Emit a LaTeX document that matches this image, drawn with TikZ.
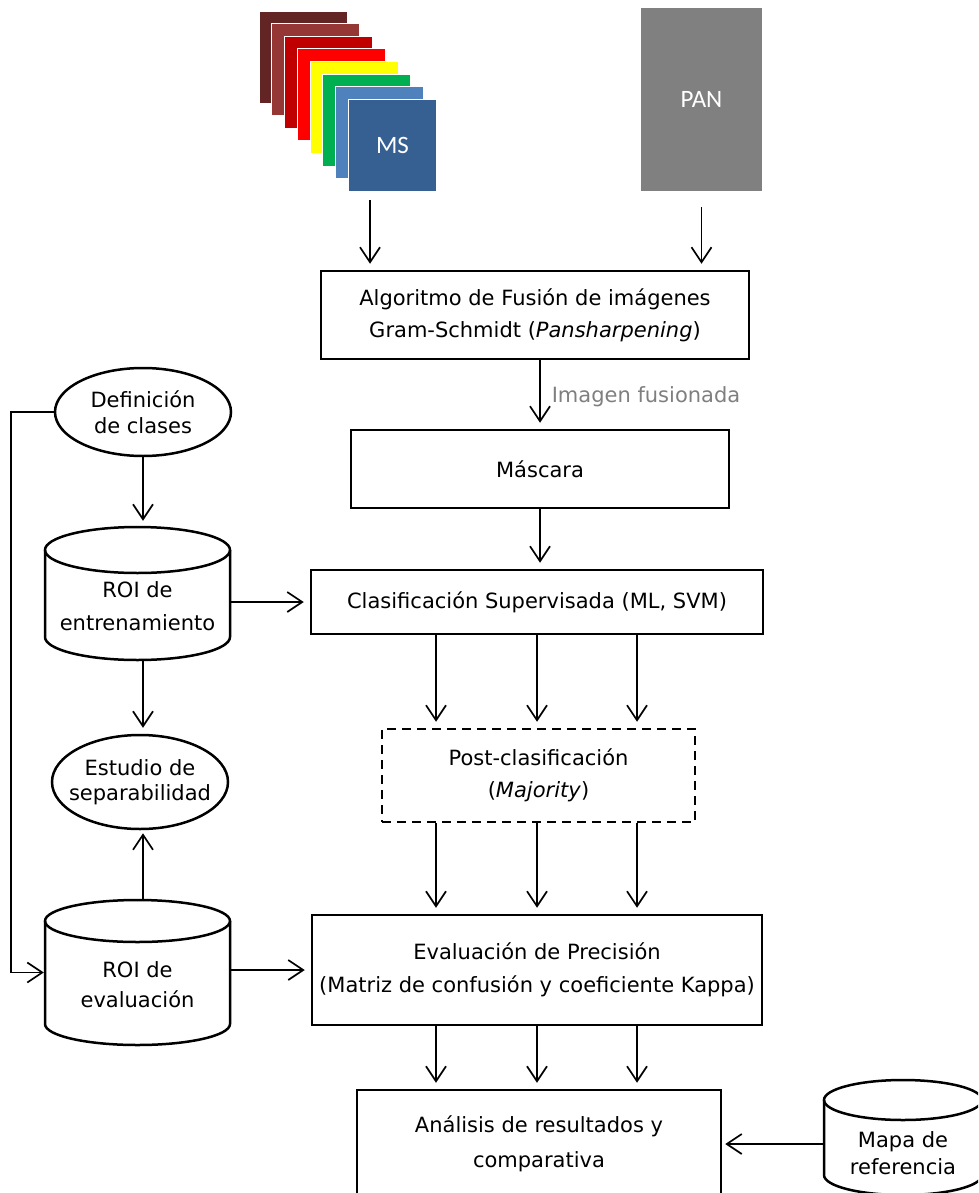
\documentclass[tikz,border=0pt]{standalone}
\usepackage{fontspec}
\setmainfont{DejaVu Sans}
\newfontfamily\labelfont{Carlito}
\usetikzlibrary{arrows.meta,shapes.geometric}

\newcommand\fs{\fontsize{21}{32}\selectfont}
% outline of a drum: centre x, top-ellipse y, bottom-ellipse y, half width, y radius
\newcommand\drumoutline[5]{%
  \draw[drum] (#1,#2) ellipse [x radius=#4pt, y radius=#5pt];
  \draw[drum] ({#1-#4},#2) -- ({#1-#4},#3)
    arc[start angle=180,end angle=360,x radius=#4pt,y radius=#5pt] -- ({#1+#4},#2);
}

\definecolor{band1}{HTML}{632523}
\definecolor{band2}{HTML}{953735}
\definecolor{band3}{HTML}{C00000}
\definecolor{band4}{HTML}{FF0000}
\definecolor{band5}{HTML}{FFFF00}
\definecolor{band6}{HTML}{00B050}
\definecolor{band7}{HTML}{4F81BD}
\definecolor{band8}{HTML}{376092}
\definecolor{pangray}{HTML}{808080}
\definecolor{notegray}{HTML}{7F7F7F}

\begin{document}
\begin{tikzpicture}[x=1pt,y=-1pt,
  txt/.style={font=\fs, align=center, text=black},
  box/.style={draw, line width=2.5pt, inner sep=0pt, txt},
  oval/.style={draw, ellipse, line width=2.5pt, inner xsep=-14pt, inner ysep=-6pt, txt},
  drum/.style={line width=2.5pt},
  drumbox/.style={draw=none, inner sep=0pt, minimum width=185pt},
  arr/.style={line width=1.7pt, -{Straight Barb[length=15pt,width=20pt,line width=1.7pt]}, shorten >=6pt},
  band/.style={draw=white, line width=0.6pt, minimum width=88pt, minimum height=92pt, inner sep=0pt},
  imgtext/.style={text=white, font=\labelfont\fontsize{25}{30}\selectfont}
]
\useasboundingbox (0,0) rectangle (978,1193);
\clip (0,0) rectangle (978,1193);

% multispectral stack
\foreach \i/\c in {0/band1,1/band2,2/band3,3/band4,4/band5,5/band6,6/band7}{
  \node[band, fill=\c] (b\i) at ({303+12.7*\i},{57+12.6*\i}) {};
}
\node[band, fill=band8, imgtext] (ms) at (392.5,145) {MS};
\coordinate (msfoot) at (370,200);

% panchromatic
\node[fill=pangray, minimum width=121pt, minimum height=183pt, inner sep=0pt, imgtext] (pan) at (701.5,99.5) {PAN};

% processing chain
\node[box, minimum width=428pt, minimum height=88pt] (fusion) at (535,315)
  {Algoritmo de Fusión de imágenes\\Gram-Schmidt (\textit{Pansharpening})};
\node[box, minimum width=378pt, minimum height=78pt] (mascara) at (540,469) {Máscara};
\node[box, minimum width=452pt, minimum height=64pt] (clasif) at (537,602)
  {Clasificación Supervisada (ML, SVM)};
\node[box, dashed, dash pattern=on 9pt off 6pt, minimum width=313pt, minimum height=93pt] (post) at (538.5,775.5)
  {Post-clasificación\\(\textit{Majority})};
\node[box, minimum width=450pt, minimum height=110pt] (eval) at (537,970)
  {Evaluación de Precisión\\[1pt](Matriz de confusión y coeficiente Kappa)};
\node[box, minimum width=364pt, minimum height=108pt] (ana) at (539,1144)
  {Análisis de resultados y\\[3pt]comparativa};

\node[txt, text=notegray] (fusedlabel) at (646,397) {Imagen fusionada};

% class definition and separability
\node[oval, minimum width=176pt, minimum height=88pt] (def) at (143,412)
  {Definición\\[-6pt]de clases};
\node[oval, minimum width=176pt, minimum height=94pt] (sep) at (140,782)
  {Estudio de\\[-7pt]separabilidad};

% regions of interest and reference map
\drumoutline{137.5}{550}{637}{92.5}{23}
\node[drumbox, minimum height=133pt,
      label={[txt,yshift=-12.5pt]center:{ROI de\\[1pt]entrenamiento}}] (roiT) at (137.5,593.5) {};
\drumoutline{137.5}{921}{1024}{92.5}{21}
\node[drumbox, minimum height=145pt,
      label={[txt,yshift=-12.5pt]center:{ROI de\\[-2pt]evaluación}}] (roiE) at (137.5,972.5) {};
\drumoutline{903}{1100}{1175}{79}{20}
\node[drumbox, minimum width=158pt, minimum height=115pt,
      label={[txt,yshift=-16pt]center:{Mapa de\\[-5pt]referencia}}] (mapa) at (903,1137.5) {};

% connectors
\draw[arr] (msfoot) -- (msfoot |- fusion.north);
\draw[arr] ([yshift=-16pt]pan.south) -- (pan.south |- fusion.north);
\draw[arr] (fusion.south -| mascara.north) -- (mascara.north);
\draw[arr] (mascara.south) -- (mascara.south |- clasif.north);
\foreach \dx in {-101,0,100}{
  \draw[arr] ([xshift=\dx pt]clasif.south) -- ([xshift=\dx pt]clasif.south |- post.north);
  \draw[arr] ([xshift=\dx pt]clasif.south |- post.south) -- ([xshift=\dx pt]clasif.south |- eval.north);
  \draw[arr] ([xshift=\dx pt]eval.south) -- ([xshift=\dx pt]eval.south |- ana.north);
}
\draw[arr] (def.south) -- (def.south |- roiT.north);
\draw[arr] (roiT.east |- clasif.west) -- (clasif.west);
\draw[arr] (def.south |- roiT.south) -- (def.south |- sep.north);
\draw[arr, shorten >=3pt] (def.south |- roiE.north) -- (def.south |- sep.south);
\draw[arr] (roiE.east |- eval.west) -- (eval.west);
\draw[arr, shorten >=1pt] (def.west) -- ++(-43pt,0) |- (roiE.west);
\draw[arr, shorten >=3pt] (mapa.west |- ana.east) -- (ana.east);
\end{tikzpicture}
\end{document}
